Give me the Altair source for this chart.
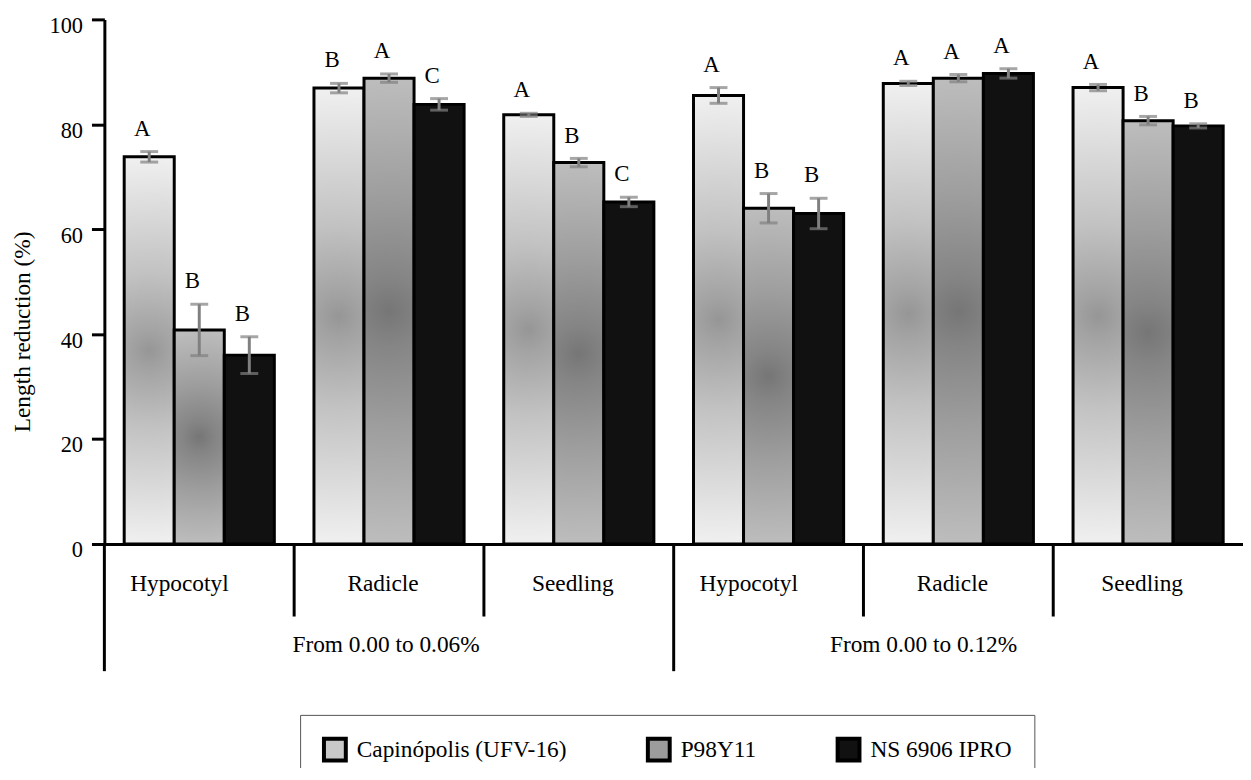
import altair as alt
import pandas as pd

F = "Liberation Serif, Times New Roman, serif"

tissues = ["Hypocotyl", "Radicle", "Seedling"]
conc_labels = ["From 0.00 to 0.06%", "From 0.00 to 0.12%"]
cultivars = ["Capinópolis (UFV-16)", "P98Y11", "NS 6906 IPRO"]

# order: Hyp/Rad/Seed at 0.06%, then Hyp/Rad/Seed at 0.12%
cap_mean = [73.8, 86.9, 81.8, 85.5, 87.8, 87.0]
p98_mean = [40.8, 88.8, 72.7, 64.0, 88.8, 80.7]
ns_mean = [36.0, 83.8, 65.2, 63.0, 89.7, 79.7]

cap_err = [1.0, 0.9, 0.3, 1.5, 0.4, 0.6]
p98_err = [4.9, 0.8, 0.8, 2.8, 0.7, 0.8]
ns_err = [3.5, 1.1, 0.9, 2.9, 0.9, 0.4]

cap_let = ["A", "B", "A", "A", "A", "A"]
p98_let = ["B", "A", "B", "B", "A", "B"]
ns_let = ["B", "C", "C", "B", "A", "B"]

means = [cap_mean, p98_mean, ns_mean]
errs = [cap_err, p98_err, ns_err]
lets = [cap_let, p98_let, ns_let]

group_keys = [f"{c} | {t}" for c in conc_labels for t in tissues]

rows = []
grows = []
for ci, c in enumerate(conc_labels):
    for ti, t in enumerate(tissues):
        gi = ci * 3 + ti
        key = f"{c} | {t}"
        grows.append(dict(group=key, tissue=t, conc=c, first=(ti == 0)))
        for k, cv in enumerate(cultivars):
            m = means[k][gi]
            e = errs[k][gi]
            rows.append(dict(group=key, cultivar=cv, mean=m, lo=m - e, hi=m + e,
                             letter=lets[k][gi]))
bars = pd.DataFrame(rows)
groups = pd.DataFrame(grows)
concs = pd.DataFrame([dict(group=f"{c} | Radicle", label=c, idx=i)
                      for i, c in enumerate(conc_labels)])

x_scale = alt.Scale(domain=group_keys, paddingInner=0, paddingOuter=0)
xo_scale = alt.Scale(domain=cultivars, paddingInner=0, paddingOuter=0.396)
y_scale = alt.Scale(domain=[0, 100], nice=False)

x_axis = alt.Axis(labels=False, ticks=False, title=None, domainColor="black",
                  domainWidth=3, grid=False)
y_axis = alt.Axis(values=[0, 20, 40, 60, 80, 100], tickSize=13, tickWidth=3,
                  tickColor="black", domainColor="black", domainWidth=3,
                  labelFont=F, labelFontSize=22.5, labelColor="black",
                  labelPadding=9, labelOffset=6, grid=False,
                  title="Length reduction (%)", titleFont=F, titleFontSize=23.5,
                  titleFontWeight="normal", titleColor="black", titleX=-82,
                  titleY=314, titleAngle=270, titleBaseline="middle",
                  titleAlign="center")

x_enc = alt.X("group:N", scale=x_scale, axis=x_axis)
xo_enc = alt.XOffset("cultivar:N", scale=xo_scale)


def yq(field):
    return alt.Y(f"{field}:Q", scale=y_scale, axis=y_axis)


def radial(stops):
    return {"gradient": "radial", "x1": 0.5, "y1": 0.5, "r1": 0,
            "x2": 0.5, "y2": 0.5, "r2": 0.5,
            "stops": [{"offset": o, "color": c} for o, c in stops]}


fills = [
    radial([(0, "#969696"), (0.1, "#a3a3a3"), (0.4, "#c2c2c2"), (1, "#f0f0f0")]),
    radial([(0, "#767676"), (0.15, "#858585"), (0.5, "#9e9e9e"), (1, "#bdbdbd")]),
    "#111111",
]

base = alt.Chart(bars)
layers = []
for k, cv in enumerate(cultivars):
    layers.append(
        base.transform_filter(alt.datum.cultivar == cv)
        .mark_bar(fill=fills[k], stroke="black", strokeWidth=3)
        .encode(x=x_enc, xOffset=xo_enc, y=yq("mean"))
    )

err_rule = base.mark_rule(color="#808080", strokeWidth=3).encode(
    x=x_enc, xOffset=xo_enc, y=yq("lo"), y2="hi:Q")
caps = base.transform_fold(["lo", "hi"], as_=["end", "val"]).mark_tick(
    color="#808080", thickness=3, size=18).encode(
    x=x_enc, xOffset=xo_enc, y=yq("val"))
letters = base.mark_text(font=F, fontSize=23, dx=-7, dy=-16,
                         baseline="alphabetic", color="black").encode(
    x=x_enc, xOffset=xo_enc, y=yq("hi"), text="letter:N")

gbase = alt.Chart(groups)
x_edge = alt.X("group:N", scale=x_scale, axis=x_axis, bandPosition=0)
sep_short = gbase.transform_filter("!datum.first").mark_rule(
    color="black", strokeWidth=3).encode(x=x_edge, y=alt.value(528), y2=alt.value(601))
sep_long = gbase.transform_filter("datum.first").mark_rule(
    color="black", strokeWidth=3).encode(x=x_edge, y=alt.value(528), y2=alt.value(656))

tis_hyp = gbase.transform_filter(alt.datum.tissue == "Hypocotyl").mark_text(
    font=F, fontSize=23.5, baseline="alphabetic", color="black", dx=-20).encode(
    x=x_enc, y=alt.value(575), text="tissue:N")
tis_oth = gbase.transform_filter(alt.datum.tissue != "Hypocotyl").mark_text(
    font=F, fontSize=23.5, baseline="alphabetic", color="black", dx=-6).encode(
    x=x_enc, y=alt.value(575), text="tissue:N")

cbase = alt.Chart(concs)
conc1 = cbase.transform_filter("datum.idx == 0").mark_text(
    font=F, fontSize=23.5, baseline="alphabetic", color="black", dx=-3).encode(
    x=x_enc, y=alt.value(637), text="label:N")
conc2 = cbase.transform_filter("datum.idx == 1").mark_text(
    font=F, fontSize=23.5, baseline="alphabetic", color="black", dx=-35).encode(
    x=x_enc, y=alt.value(637), text="label:N")

legend_layer = base.mark_square(opacity=0).encode(
    x=x_enc, xOffset=xo_enc, y=yq("mean"),
    fill=alt.Fill("cultivar:N",
                  scale=alt.Scale(domain=cultivars,
                                  range=["#c8c8c8", "#9c9c9c", "#111111"]),
                  legend=alt.Legend(title=None,
                                    orient="none", legendX=197,
                                    legendY=700, direction="horizontal",
                                    symbolType="square", symbolSize=484,
                                    symbolStrokeColor="black",
                                    symbolStrokeWidth=4, symbolOpacity=1,
                                    labelFont=F, labelFontSize=23.5,
                                    labelColor="black", labelOffset=9,
                                    columnPadding=73, padding=22,
                                    strokeColor="#555555", labelLimit=400)))

chart = alt.layer(*layers, err_rule, caps, letters, sep_short, sep_long,
                  tis_hyp, tis_oth, conc1, conc2, legend_layer).properties(
    width=1146, height=528,
    autosize=alt.AutoSizeParams(type="none"),
    padding={"left": 97, "top": 9, "right": 0, "bottom": 223},
    background="white",
).configure_view(stroke=None)

chart.save("out.html", embed_options={"renderer": "svg", "actions": False})
